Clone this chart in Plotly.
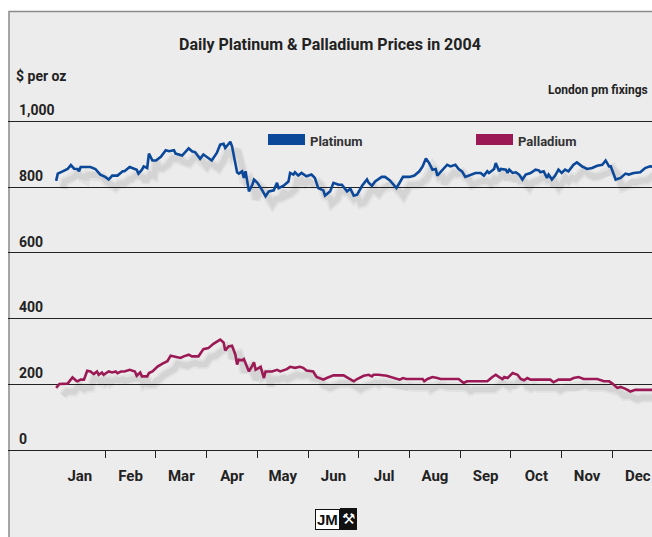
import plotly.graph_objects as go

# London pm fixings, $ per oz
PLAT_DATES = [
    "01-02", "01-03", "01-06", "01-09", "01-11", "01-13", "01-15", "01-16", "01-17", "01-23",
    "01-26", "01-29", "02-01", "02-03", "02-05", "02-08", "02-11", "02-12", "02-15", "02-17",
    "02-19", "02-20", "02-22", "02-23", "02-25", "02-26", "02-28", "03-01", "03-04", "03-07",
    "03-09", "03-12", "03-13", "03-17", "03-21", "03-23", "03-25", "03-28", "03-30", "04-04",
    "04-07", "04-09", "04-11", "04-12", "04-15", "04-16", "04-18", "04-19", "04-20", "04-22",
    "04-23", "04-24", "04-26", "04-28", "04-29", "05-01", "05-04", "05-06", "05-08", "05-11",
    "05-13", "05-14", "05-17", "05-20", "05-21", "05-23", "05-24", "05-26", "05-28", "05-31",
    "06-03", "06-05", "06-07", "06-10", "06-11", "06-14", "06-16", "06-19", "06-21", "06-24",
    "06-26", "06-28", "06-30", "07-03", "07-06", "07-07", "07-09", "07-11", "07-15", "07-17",
    "07-20", "07-22", "07-24", "07-26", "07-28", "08-01", "08-04", "08-07", "08-09", "08-11",
    "08-13", "08-15", "08-17", "08-18", "08-21", "08-24", "08-26", "08-29", "08-31", "09-02",
    "09-04", "09-07", "09-10", "09-13", "09-15", "09-17", "09-18", "09-21", "09-22", "09-24",
    "09-25", "09-28", "09-29", "09-30", "10-02", "10-04", "10-06", "10-08", "10-10", "10-13",
    "10-15", "10-16", "10-18", "10-19", "10-21", "10-23", "10-24", "10-26", "10-28", "10-30",
    "11-01", "11-03", "11-05", "11-08", "11-10", "11-13", "11-16", "11-19", "11-22", "11-25",
    "11-27", "11-29", "11-30", "12-03", "12-06", "12-09", "12-11", "12-14", "12-18", "12-21",
    "12-24", "12-31",
]
PLAT_PRICES = [
    819, 841, 848, 855, 867, 856, 855, 848, 861, 861,
    855, 838, 831, 823, 835, 835, 848, 848, 861, 858,
    853, 841, 853, 863, 858, 902, 881, 881, 892, 912,
    909, 912, 902, 896, 918, 909, 906, 886, 899, 881,
    904, 929, 932, 919, 938, 924, 878, 845, 841, 848,
    828, 848, 787, 807, 823, 813, 790, 772, 787, 790,
    813, 797, 804, 817, 843, 838, 845, 835, 843, 833,
    838, 828, 797, 790, 774, 787, 813, 807, 807, 787,
    795, 774, 777, 804, 823, 813, 804, 817, 831, 831,
    820, 810, 797, 814, 831, 831, 835, 848, 863, 887,
    873, 853, 855, 835, 853, 868, 863, 868, 855, 848,
    831, 838, 843, 843, 835, 848, 843, 855, 873, 848,
    855, 853, 843, 853, 843, 845, 838, 823, 838, 843,
    848, 853, 851, 845, 848, 828, 838, 823, 835, 853,
    843, 853, 848, 868, 875, 863, 855, 858, 865, 868,
    881, 863, 863, 823, 828, 841, 838, 843, 845, 858,
    863, 859,
]

PALL_DATES = [
    "01-02", "01-04", "01-09", "01-12", "01-14", "01-15", "01-17", "01-19", "01-21", "01-23",
    "01-25", "01-27", "01-28", "01-30", "01-31", "02-02", "02-03", "02-05", "02-07", "02-08",
    "02-10", "02-12", "02-15", "02-18", "02-19", "02-21", "02-22", "02-25", "02-26", "02-28",
    "03-02", "03-05", "03-08", "03-10", "03-13", "03-16", "03-18", "03-21", "03-23", "03-27",
    "03-30", "04-02", "04-05", "04-08", "04-09", "04-11", "04-12", "04-14", "04-16", "04-18",
    "04-19", "04-20", "04-22", "04-23", "04-25", "04-26", "04-28", "04-29", "04-30", "05-03",
    "05-05", "05-06", "05-10", "05-13", "05-15", "05-19", "05-21", "05-24", "05-27", "05-29",
    "05-31", "06-04", "06-06", "06-10", "06-12", "06-16", "06-22", "06-26", "06-28", "06-30",
    "07-04", "07-07", "07-09", "07-10", "07-13", "07-18", "07-22", "07-26", "07-28", "07-30",
    "08-09", "08-10", "08-12", "08-15", "08-18", "08-20", "08-31", "09-03", "09-05", "09-17",
    "09-20", "09-22", "09-24", "09-26", "09-27", "09-29", "09-30", "10-02", "10-05", "10-07",
    "10-09", "10-11", "10-13", "10-25", "10-27", "10-30", "11-06", "11-08", "11-11", "11-14",
    "11-22", "11-26", "11-29", "12-01", "12-04", "12-06", "12-09", "12-12", "12-15", "12-25",
    "12-31",
]
PALL_PRICES = [
    189, 201, 202, 221, 212, 209, 214, 214, 241, 239,
    231, 239, 229, 236, 229, 236, 239, 236, 239, 234,
    239, 239, 244, 239, 226, 236, 224, 224, 234, 239,
    254, 263, 270, 287, 283, 280, 285, 290, 285, 285,
    307, 310, 323, 334, 336, 327, 303, 315, 317, 290,
    260, 275, 273, 277, 253, 239, 257, 267, 244, 253,
    219, 239, 239, 244, 239, 246, 253, 250, 253, 250,
    242, 239, 222, 214, 219, 227, 227, 214, 209, 216,
    226, 229, 224, 229, 229, 226, 219, 214, 219, 216,
    216, 209, 216, 222, 219, 216, 216, 204, 209, 209,
    222, 229, 222, 216, 222, 219, 224, 234, 229, 216,
    212, 219, 214, 214, 206, 214, 214, 219, 222, 216,
    216, 209, 209, 202, 189, 192, 186, 178, 183, 183,
    183,
]

MONTHS = ["Jan", "Feb", "Mar", "Apr", "May", "Jun", "Jul", "Aug", "Sep", "Oct", "Nov", "Dec"]
DAYS_IN_MONTH = [31, 29, 31, 30, 31, 30, 31, 31, 30, 31, 30, 31]
Y_TICKS = [0, 200, 400, 600, 800, 1000]
Y_TICK_TEXT = ["0", "200", "400", "600", "800", "1,000"]

PLAT_COLOR = "#0b4899"
PALL_COLOR = "#9b1a55"
BG = "#ececec"
INK = "#222222"
FONT = "Roboto, Liberation Sans, Arial, sans-serif"

# page body margin is dropped (see write_html), so figure == window
W, H = 652, 537
M_L, M_R, M_T, M_B = 8, 0, 100, 87
PLOT_W = W - M_L - M_R
PLOT_H = H - M_T - M_B
PX_PER_MONTH = 50.72
JAN_PX = 54.5  # pixel of 1 January
X_RANGE = [-(JAN_PX - M_L) / PX_PER_MONTH, -(JAN_PX - M_L) / PX_PER_MONTH + PLOT_W / PX_PER_MONTH]
Y_RANGE = [0, 1065]

# shadow offset in pixels, turned into axis units
SH_DX, SH_DY = 7, 8
sx = SH_DX / PX_PER_MONTH
sy = SH_DY * (Y_RANGE[1] - Y_RANGE[0]) / PLOT_H


def month_pos(md):
    """Uniform month scale: each month has the same width on the chart."""
    m, d = (int(v) for v in md.split("-"))
    return (m - 1) + (d - 1) / DAYS_IN_MONTH[m - 1]


def xpaper(px):
    return (px - M_L) / PLOT_W


def ypaper(py):
    return (M_T + PLOT_H - py) / PLOT_H


plat_x = [month_pos(d) for d in PLAT_DATES]
pall_x = [month_pos(d) for d in PALL_DATES]

fig = go.Figure()

# soft drop shadows on an offset overlay
for xs, ys in ((plat_x, PLAT_PRICES), (pall_x, PALL_PRICES)):
    for width, alpha in ((10, 0.04), (6, 0.06)):
        fig.add_trace(go.Scatter(
            x=xs, y=ys, mode="lines", xaxis="x2", yaxis="y2",
            line=dict(color=f"rgba(0,0,0,{alpha})", width=width),
            hoverinfo="skip", showlegend=False,
        ))

# main price lines
fig.add_trace(go.Scatter(
    x=plat_x, y=PLAT_PRICES, mode="lines", xaxis="x3", yaxis="y3",
    line=dict(color=PLAT_COLOR, width=2.6), name="Platinum", showlegend=False,
))
fig.add_trace(go.Scatter(
    x=pall_x, y=PALL_PRICES, mode="lines", xaxis="x3", yaxis="y3",
    line=dict(color=PALL_COLOR, width=2.6), name="Palladium", showlegend=False,
))

# legend swatches: line + fill together give a thick block
for name, color, leg in (("Platinum", PLAT_COLOR, "legend"), ("Palladium", PALL_COLOR, "legend2")):
    fig.add_trace(go.Scatter(
        x=[None], y=[None], mode="lines", name=name, legend=leg,
        fill="toself", fillcolor=color,
        line=dict(color=color, width=10),
    ))

legend_style = dict(
    xanchor="left", yanchor="middle", itemwidth=37,
    bgcolor="rgba(0,0,0,0)", borderwidth=0,
    font=dict(family=FONT, size=13, color="#333333", weight="bold"),
)
hidden = dict(visible=False, showgrid=False, zeroline=False, fixedrange=True)

fig.update_layout(
    width=W, height=H,
    margin=dict(l=M_L, r=M_R, t=M_T, b=M_B, pad=0),
    paper_bgcolor="white",
    plot_bgcolor="rgba(0,0,0,0)",
    font=dict(family=FONT, color=INK, size=14),
    showlegend=True,
    legend=dict(x=xpaper(263), y=ypaper(141), **legend_style),
    legend2=dict(x=xpaper(471), y=ypaper(141), **legend_style),
    xaxis=dict(
        range=X_RANGE, tickmode="array",
        tickvals=[i + 0.5 for i in range(12)], ticktext=MONTHS,
        ticks="", ticklabelstandoff=12,
        tickfont=dict(family=FONT, size=15, color=INK, weight="bold"),
        showgrid=False, zeroline=False,
        showline=True, linecolor=INK, linewidth=1,
        minor=dict(tickmode="linear", tick0=0, dtick=1, ticks="outside",
                   ticklen=7, tickcolor=INK, tickwidth=1, showgrid=False),
        fixedrange=True,
    ),
    yaxis=dict(
        range=Y_RANGE, tickmode="array", tickvals=Y_TICKS, ticktext=Y_TICK_TEXT,
        ticks="", ticklabelposition="inside", ticklabelshift=-11, ticklabelstandoff=8,
        tickfont=dict(family=FONT, size=14, color=INK, weight="bold"),
        showgrid=True, gridcolor=INK, gridwidth=1,
        zeroline=False, showline=False, fixedrange=True,
    ),
    xaxis2=dict(overlaying="x", anchor="y2", range=[X_RANGE[0] - sx, X_RANGE[1] - sx], **hidden),
    yaxis2=dict(overlaying="y", anchor="x2", range=[Y_RANGE[0] + sy, Y_RANGE[1] + sy], **hidden),
    xaxis3=dict(overlaying="x", anchor="y3", range=X_RANGE, **hidden),
    yaxis3=dict(overlaying="y", anchor="x3", range=Y_RANGE, **hidden),
)

# grey framed panel behind the chart
fig.add_shape(
    type="rect", xref="paper", yref="paper", layer="below",
    x0=xpaper(9), x1=1.2, y0=-0.5, y1=ypaper(11.5),
    fillcolor=BG, line=dict(color="#8a8a8a", width=1.5),
)

fig.add_annotation(
    text="Daily Platinum &amp; Palladium Prices in 2004", xref="paper", yref="paper",
    x=xpaper(330), y=ypaper(44), xanchor="center", yanchor="middle", showarrow=False,
    font=dict(family=FONT, size=16, color=INK, weight="bold"),
)
fig.add_annotation(
    text="$ per oz", xref="paper", yref="paper",
    x=xpaper(14), y=ypaper(76), xanchor="left", yanchor="middle", showarrow=False,
    font=dict(family=FONT, size=14, color=INK, weight="bold"),
)
fig.add_annotation(
    text="London pm fixings", xref="paper", yref="paper",
    x=xpaper(650), y=ypaper(90), xanchor="right", yanchor="middle", showarrow=False,
    font=dict(family=FONT, size=12, color=INK, weight="bold"),
)
# JM logo
fig.add_annotation(
    text="JM", xref="paper", yref="paper",
    x=xpaper(340), y=ypaper(519), xanchor="right", yanchor="middle", showarrow=False,
    font=dict(family="Liberation Sans, Arial, sans-serif", size=15, color="#111", weight="bold"),
    bgcolor="white", bordercolor="#111", borderwidth=1, borderpad=1,
)
fig.add_annotation(
    text="⚒", xref="paper", yref="paper",
    x=xpaper(340), y=ypaper(519), xanchor="left", yanchor="middle", showarrow=False,
    font=dict(family="DejaVu Sans, sans-serif", size=15, color="white"),
    bgcolor="#111", bordercolor="#111", borderwidth=1, borderpad=1,
)

# drop the default 8px body margin so the 652x537 figure fills the window
fig.write_html(
    "out.html",
    config={"displayModeBar": False},
    post_script="document.body.style.margin='0';"
                "document.documentElement.style.overflow='hidden';",
)
